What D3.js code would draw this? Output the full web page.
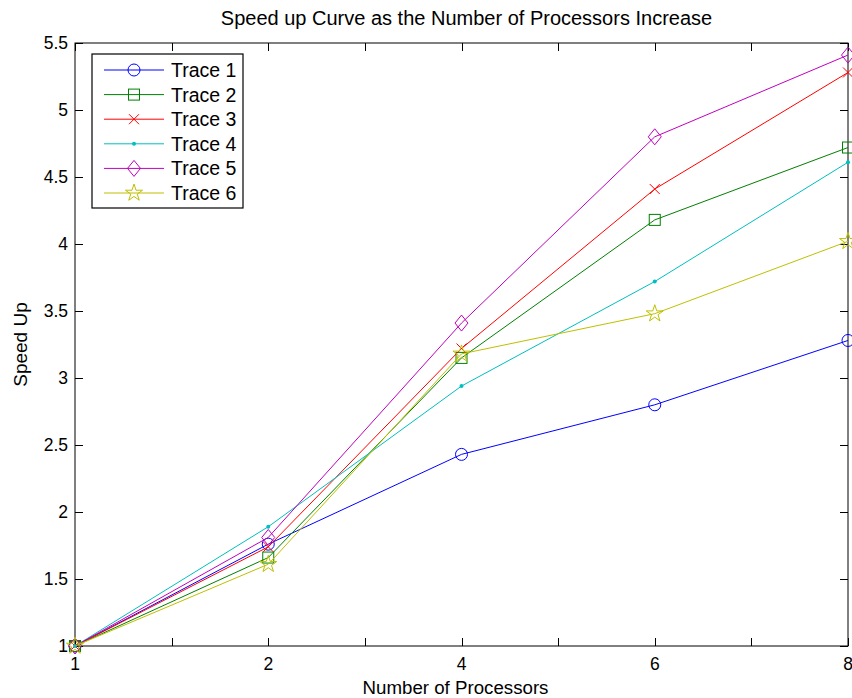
<!DOCTYPE html>
<html>
<head>
<meta charset="utf-8">
<script src="https://cdn.jsdelivr.net/npm/d3@7"></script>
<style>
  html, body { margin: 0; padding: 0; background: #fff; }
  svg { display: block; font-family: "Liberation Sans", Arial, Helvetica, sans-serif; }
</style>
</head>
<body>
<svg id="chart" width="852" height="698"></svg>
<script>
// Number of processors (x categories) and tick values on the y axis
const processors = [1, 2, 4, 6, 8];
const yTicks = [1, 1.5, 2, 2.5, 3, 3.5, 4, 4.5, 5, 5.5];

// Measured speed-up for each trace
const trace1 = [1, 1.76, 2.43, 2.80, 3.28];
const trace2 = [1, 1.66, 3.15, 4.18, 4.72];
const trace3 = [1, 1.74, 3.22, 4.41, 5.28];
const trace4 = [1, 1.89, 2.94, 3.72, 4.61];
const trace5 = [1, 1.81, 3.41, 4.80, 5.41];
const trace6 = [1, 1.61, 3.18, 3.48, 4.02];

const traceNames = ["Trace 1", "Trace 2", "Trace 3", "Trace 4", "Trace 5", "Trace 6"];
const traceColors = ["#0000ff", "#008000", "#ff0000", "#00bfbf", "#bf00bf", "#bfbf00"];
const traceMarkers = ["circle", "square", "cross", "dot", "diamond", "star"];
const traceValues = [trace1, trace2, trace3, trace4, trace5, trace6];

const series = traceNames.map((name, i) => ({
  name, color: traceColors[i], marker: traceMarkers[i], values: traceValues[i]
}));

const svg = d3.select("#chart");
const margin = { left: 75, right: 4, top: 43, bottom: 52 };
const W = 852, H = 698;
const x0 = margin.left, x1 = W - margin.right, y0 = margin.top, y1 = H - margin.bottom;

// Processors are placed at evenly spaced positions (index scale)
const x = d3.scaleLinear().domain([0, processors.length - 1]).range([x0, x1]);
const y = d3.scaleLinear().domain([1, 5.5]).range([y1, y0]);

const xTickPos = d3.range(0, processors.length - 1 + 0.001, 0.5);
const tickLen = 8;

const g = svg.append("g");

// Frame
g.append("rect").attr("x", x0).attr("y", y0).attr("width", x1 - x0).attr("height", y1 - y0)
  .attr("fill", "none").attr("stroke", "#000").attr("stroke-width", 1);

// Inward ticks on all four sides
const ticks = g.append("g").attr("stroke", "#000").attr("stroke-width", 1);
xTickPos.forEach(t => {
  const px = Math.round(x(t)) + 0.5;
  ticks.append("line").attr("x1", px).attr("x2", px).attr("y1", y1).attr("y2", y1 - tickLen);
  ticks.append("line").attr("x1", px).attr("x2", px).attr("y1", y0).attr("y2", y0 + tickLen);
});
yTicks.forEach(t => {
  const py = Math.round(y(t)) + 0.5;
  ticks.append("line").attr("x1", x0).attr("x2", x0 + tickLen).attr("y1", py).attr("y2", py);
  ticks.append("line").attr("x1", x1).attr("x2", x1 - tickLen).attr("y1", py).attr("y2", py);
});

// Tick labels
const tickSize = 17.5;
processors.forEach((p, i) => {
  g.append("text").attr("x", x(i)).attr("y", y1 + 24)
    .attr("text-anchor", "middle").attr("font-size", tickSize).text(p);
});
yTicks.forEach(t => {
  g.append("text").attr("x", x0 - 7).attr("y", y(t)).attr("dy", "0.35em")
    .attr("text-anchor", "end").attr("font-size", tickSize).text(d3.format("")(t));
});

// Axis titles and chart title
svg.append("text").attr("x", (x0 + x1) / 2 - 6).attr("y", H - 4)
  .attr("text-anchor", "middle").attr("font-size", 18.7).text("Number of Processors");
svg.append("text").attr("transform", `translate(27, ${(y0 + y1) / 2}) rotate(-90)`)
  .attr("text-anchor", "middle").attr("font-size", 19).text("Speed Up");
svg.append("text").attr("x", (x0 + x1) / 2 + 5).attr("y", 25)
  .attr("text-anchor", "middle").attr("font-size", 20).text("Speed up Curve as the Number of Processors Increase");

// Marker drawing
function drawMarker(sel, type, color) {
  switch (type) {
    case "circle":
      sel.append("circle").attr("r", 6).attr("fill", "none").attr("stroke", color);
      break;
    case "square":
      sel.append("rect").attr("x", -5.5).attr("y", -5.5).attr("width", 11).attr("height", 11)
        .attr("fill", "none").attr("stroke", color);
      break;
    case "cross":
      sel.append("path").attr("d", "M-5,-5L5,5M-5,5L5,-5").attr("fill", "none").attr("stroke", color);
      break;
    case "dot":
      sel.append("circle").attr("r", 2).attr("fill", color).attr("stroke", "none");
      break;
    case "diamond":
      sel.append("path").attr("d", "M0,-8L6.5,0L0,8L-6.5,0Z").attr("fill", "none").attr("stroke", color);
      break;
    case "star":
      sel.append("path").attr("d", d3.symbol().type(d3.symbolStar).size(90)())
        .attr("fill", "none").attr("stroke", color);
      break;
  }
}

const line = d3.line().x((d, i) => x(i)).y(d => y(d));

const plot = svg.append("g");
series.forEach(s => {
  plot.append("path").attr("d", line(s.values)).attr("fill", "none")
    .attr("stroke", s.color).attr("stroke-width", 1);
  s.values.forEach((v, i) => {
    const m = plot.append("g").attr("transform", `translate(${x(i)},${y(v)})`);
    drawMarker(m, s.marker, s.color);
  });
});

// Legend
const legend = svg.append("g");
const lx = 92, ly = 54, lw = 151, lh = 154, rowH = 24.6;
legend.append("rect").attr("x", lx).attr("y", ly).attr("width", lw).attr("height", lh)
  .attr("fill", "#fff").attr("stroke", "#000").attr("stroke-width", 1.2);
series.forEach((s, i) => {
  const ry = ly + 16 + i * rowH;
  legend.append("line").attr("x1", lx + 12).attr("x2", lx + 72).attr("y1", ry).attr("y2", ry)
    .attr("stroke", s.color).attr("stroke-width", 1);
  const m = legend.append("g").attr("transform", `translate(${lx + 42},${ry})`);
  drawMarker(m, s.marker, s.color);
  legend.append("text").attr("x", lx + 79).attr("y", ry).attr("dy", "0.36em")
    .attr("font-size", 19.5).text(s.name);
});
</script>
</body>
</html>
